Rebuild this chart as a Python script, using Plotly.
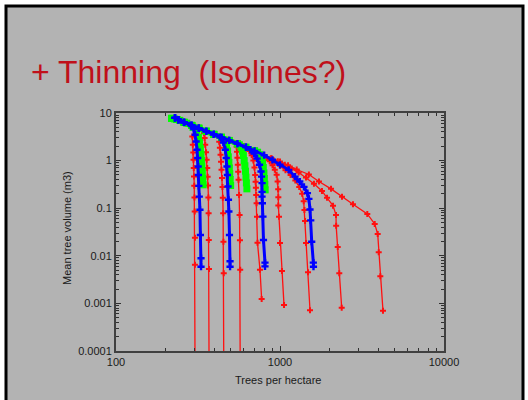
import plotly.graph_objects as go

# ---------------- data (trees per hectare N, mean tree volume V in m3) ----------------
red_N = [
    [304, 303, 303, 302, 301, 300, 299, 298, 297, 296, 294, 292],
    [370, 369, 368, 367, 366, 364, 362, 360, 357, 354, 350, 347, 344],
    [455, 454, 452, 450, 448, 446, 443, 440, 437, 434, 430, 426],
    [573, 572, 570, 567, 563, 559, 556, 553, 550, 547, 544],
    [773, 755, 729, 724, 720, 716, 713, 710, 706, 699, 688, 672, 650, 625, 600],
    [1058, 1028, 1000, 986, 977, 977, 975, 967, 954, 930, 900, 865, 825, 785, 745, 705],
    [1524, 1482, 1441, 1421, 1410, 1395, 1365, 1310, 1240, 1160, 1080, 1000, 925, 855],
    [2378, 2299, 2249, 2200, 2195, 2105, 1935, 1803, 1611, 1441, 1300, 1180, 1070, 970, 880, 800],
    [4246, 4089, 3999, 3942, 3780, 3406, 2786, 2388, 2047, 1728, 1500, 1264, 1120, 1000, 890, 800, 720, 650, 590],
]
red_V = [
    [0.00001, 0.0065, 0.024, 0.085, 0.167, 0.295, 0.463, 0.695, 1.04, 1.48, 2.15, 3.21],
    [0.00001, 0.0053, 0.0215, 0.0785, 0.167, 0.3, 0.46, 0.7, 1.04, 1.5, 2.15, 3.0, 3.8],
    [0.00001, 0.0043, 0.0198, 0.0785, 0.165, 0.28, 0.43, 0.64, 0.95, 1.32, 1.86, 2.5],
    [0.00001, 0.0051, 0.0212, 0.072, 0.19, 0.394, 0.58, 0.82, 1.15, 1.53, 1.95],
    [0.00123, 0.0051, 0.0187, 0.0665, 0.127, 0.19, 0.27, 0.36, 0.5, 0.72, 1.0, 1.3, 1.6, 1.82, 2.02],
    [0.00092, 0.0048, 0.0186, 0.0665, 0.1135, 0.17, 0.25, 0.363, 0.502, 0.64, 0.8, 0.97, 1.13, 1.28, 1.42, 1.58],
    [0.00072, 0.0045, 0.0186, 0.054, 0.092, 0.14, 0.2, 0.28, 0.38, 0.5, 0.63, 0.78, 0.93, 1.08],
    [0.00081, 0.0043, 0.0153, 0.043, 0.072, 0.113, 0.165, 0.231, 0.325, 0.44, 0.56, 0.68, 0.82, 0.97, 1.12, 1.3],
    [0.0007, 0.0037, 0.0119, 0.0288, 0.0467, 0.0759, 0.121, 0.175, 0.255, 0.363, 0.51, 0.65, 0.8, 0.96, 1.12, 1.3, 1.5, 1.75, 2.0],
]

green_N = [
    [340, 338, 336, 334, 332, 330, 327, 323, 318, 310, 295, 270, 245, 228, 219],
    [500, 497, 494, 491, 488, 484, 479, 472, 462, 440, 395, 355, 320, 290, 260, 235, 219],
    [628, 624, 620, 616, 611, 605, 598, 590, 580, 565, 550, 490, 440, 395, 355, 320, 290, 260, 235, 219],
    [812, 808, 803, 798, 791, 782, 770, 752, 730, 700, 620, 550, 490, 440, 395, 355, 320, 290, 260, 235, 219],
]
green_V = [
    [0.31, 0.42, 0.56, 0.75, 1.0, 1.35, 1.8, 2.4, 3.1, 4.0, 5.0, 6.1, 7.0, 7.5, 7.7],
    [0.3, 0.4, 0.53, 0.7, 0.92, 1.2, 1.6, 2.1, 2.7, 3.1, 3.56, 4.14, 4.79, 5.48, 6.37, 7.3, 7.7],
    [0.255, 0.34, 0.45, 0.6, 0.78, 1.0, 1.28, 1.58, 1.9, 2.15, 2.26, 2.65, 3.08, 3.56, 4.14, 4.79, 5.48, 6.37, 7.3, 7.7],
    [0.243, 0.32, 0.42, 0.55, 0.72, 0.92, 1.12, 1.33, 1.5, 1.62, 1.92, 2.26, 2.65, 3.08, 3.56, 4.14, 4.79, 5.48, 6.37, 7.3, 7.7],
]

blue_N = [
    [330, 330, 327, 325, 322, 320, 318, 317, 315, 312, 308, 304, 298, 285, 260, 240, 229],
    [496, 496, 492, 488, 485, 482, 478, 475, 470, 464, 452, 430, 395, 355, 320, 290, 260, 240, 229],
    [810, 810, 793, 787, 781, 777, 777, 777, 772, 766, 750, 725, 695, 660, 620, 550, 490, 440, 395, 355, 320, 290, 260, 240, 229],
    [1600, 1597, 1561, 1540, 1524, 1500, 1470, 1400, 1320, 1235, 1130, 1000, 900, 800, 700, 620, 550, 490, 440, 395, 355, 320, 290, 260, 240, 229],
]
blue_V = [
    [0.0059, 0.0089, 0.0274, 0.093, 0.175, 0.295, 0.5, 0.75, 1.13, 1.69, 2.52, 3.5, 4.6, 5.6, 6.4, 7.3, 7.9],
    [0.0059, 0.0077, 0.0274, 0.085, 0.15, 0.285, 0.5, 0.75, 1.13, 1.69, 2.4, 3.1, 3.56, 4.14, 4.79, 5.48, 6.37, 7.2, 7.9],
    [0.0060, 0.0072, 0.0215, 0.0665, 0.127, 0.175, 0.22, 0.337, 0.46, 0.59, 0.82, 1.1, 1.4, 1.7, 1.92, 2.26, 2.65, 3.08, 3.56, 4.14, 4.79, 5.48, 6.37, 7.2, 7.9],
    [0.0059, 0.0072, 0.0198, 0.0555, 0.094, 0.157, 0.207, 0.28, 0.363, 0.46, 0.64, 0.816, 1.04, 1.3, 1.6, 1.92, 2.26, 2.65, 3.08, 3.56, 4.14, 4.79, 5.48, 6.37, 7.2, 7.9],
]

x_ticks = [100, 1000, 10000]
x_ticktext = ["100", "1000", "10000"]
y_ticks = [0.0001, 0.001, 0.01, 0.1, 1, 10]
y_ticktext = ["0.0001", "0.001", "0.01", "0.1", "1", "10"]
x_minor = [m * d for d in (100, 1000) for m in range(2, 10)]
y_minor = [m * d for d in (0.0001, 0.001, 0.01, 0.1, 1) for m in range(2, 10)]

title_text = "+ Thinning\u00a0 (Isolines?)"
x_title = "Trees per hectare"
y_title = "Mean tree volume (m3)"

# ---------------- figure ----------------
fig = go.Figure()
for n, v in zip(red_N, red_V):
    fig.add_trace(go.Scatter(x=n, y=v, mode="lines+markers",
                             line=dict(color="#ff1010", width=1.3),
                             marker=dict(color="#ff1010", symbol="cross", size=5, line=dict(width=0)),
                             showlegend=False, hoverinfo="skip"))
for n, v in zip(green_N, green_V):
    fig.add_trace(go.Scatter(x=n, y=v, mode="lines+markers",
                             line=dict(color="#00ff00", width=5),
                             marker=dict(color="#00ff00", symbol="square", size=7, line=dict(width=0)),
                             showlegend=False, hoverinfo="skip"))
for n, v in zip(blue_N, blue_V):
    fig.add_trace(go.Scatter(x=n, y=v, mode="lines+markers",
                             line=dict(color="#0000ff", width=3),
                             marker=dict(color="#0000ff", symbol="cross", size=6, line=dict(width=0)),
                             showlegend=False, hoverinfo="skip"))

axis_common = dict(type="log", showgrid=False, zeroline=False, showline=True,
                   linecolor="#404040", linewidth=2, mirror="allticks",
                   ticks="inside", ticklen=5, tickwidth=1, tickcolor="#303030",
                   tickfont=dict(family="Liberation Sans, Arial, sans-serif", size=11, color="#1a1a1a"),
                   tickmode="array")

fig.update_xaxes(range=[2, 4], tickvals=x_ticks, ticktext=x_ticktext,
                 minor=dict(ticks="inside", ticklen=3, tickwidth=1, tickcolor="#303030",
                            tickvals=x_minor, showgrid=False),
                 **axis_common)
fig.update_yaxes(range=[-4, 1], tickvals=y_ticks, ticktext=y_ticktext,
                 minor=dict(ticks="inside", ticklen=3, tickwidth=1, tickcolor="#303030",
                            tickvals=y_minor, showgrid=False),
                 **axis_common)

L, R, T, B = 116, 84, 113, 49
W, H = 528, 400
pw, ph = W - L - R, H - T - B

def px(xp):
    return (xp - L) / pw

def py(yp):
    return (H - B - yp) / ph

fig.update_layout(
    width=W, height=H, autosize=False,
    margin=dict(l=L, r=R, t=T, b=B, pad=0),
    paper_bgcolor="white", plot_bgcolor="#b3b3b3",
    font=dict(family="Liberation Sans, Arial, sans-serif", color="#1a1a1a"),
    shapes=[dict(type="rect", xref="paper", yref="paper",
                 x0=px(6), x1=px(523), y0=py(412), y1=py(6),
                 fillcolor="#b3b3b3", line=dict(color="black", width=3), layer="below")],
    annotations=[
        dict(text=title_text, xref="paper", yref="paper", x=px(29), y=py(72),
             xanchor="left", yanchor="middle", showarrow=False,
             font=dict(family="Liberation Sans, Arial, sans-serif", size=32, color="#c0101a")),
        dict(text=x_title, xref="paper", yref="paper", x=px(278), y=py(380),
             xanchor="center", yanchor="middle", showarrow=False,
             font=dict(size=11, color="#1a1a1a")),
        dict(text=y_title, xref="paper", yref="paper", x=px(67), y=py(228),
             xanchor="center", yanchor="middle", showarrow=False, textangle=-90,
             font=dict(size=11, color="#1a1a1a")),
    ],
)

fig.write_html("out.html")
